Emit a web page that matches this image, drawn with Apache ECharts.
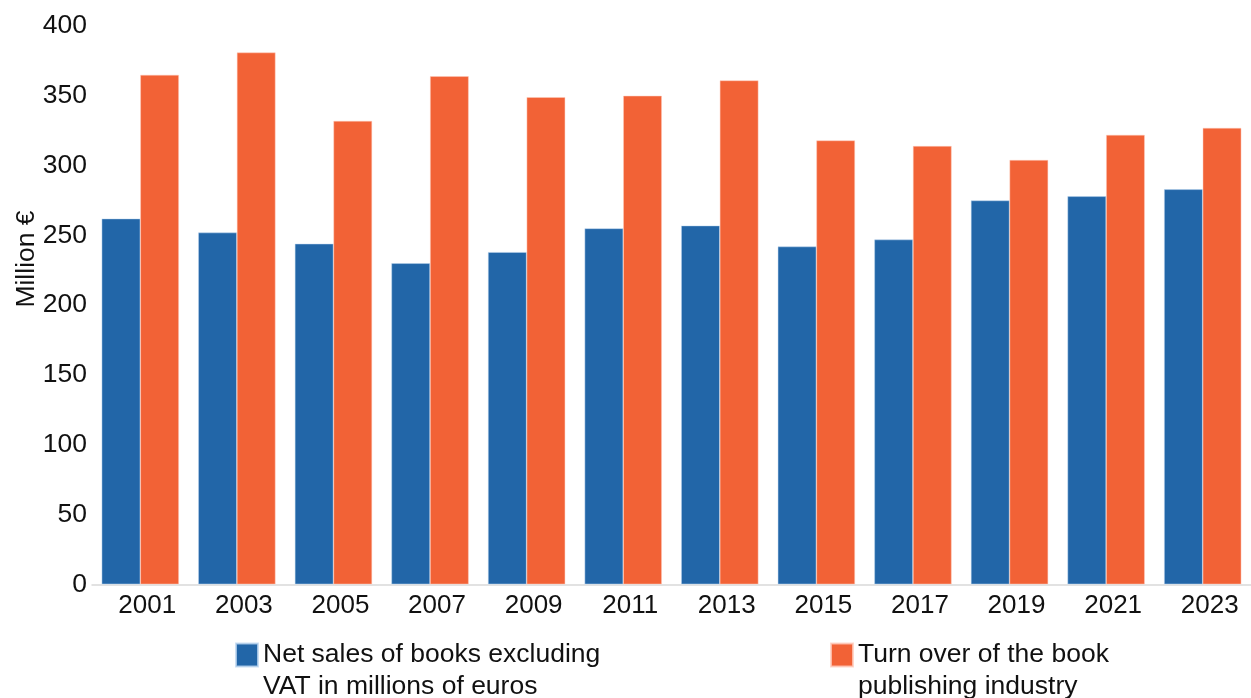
<!DOCTYPE html>
<html>
<head>
<meta charset="utf-8">
<script src="https://cdn.jsdelivr.net/npm/echarts@6/dist/echarts.min.js"></script>
<style>
  html, body { margin: 0; padding: 0; background: #ffffff; }
  #chart { width: 1251px; height: 698px; }
</style>
</head>
<body>
<div id="chart"></div>
<script>
// Years shown on the category axis
const years = ['2001', '2003', '2005', '2007', '2009', '2011', '2013', '2015', '2017', '2019', '2021', '2023'];

// Net sales of books excluding VAT (million €)
const netSales = [262, 252, 244, 230, 238, 255, 257, 242, 247, 275, 278, 283];

// Turnover of the book publishing industry (million €)
const turnover = [365, 381, 332, 364, 349, 350, 361, 318, 314, 304, 322, 327];

// Series names and their two-line legend captions
const seriesNames = ['Net sales of books excluding VAT in millions of euros', 'Turn over of the book publishing industry'];
const legendCaptions = {};
// leading break keeps the first caption line level with the swatch
legendCaptions[seriesNames[0]] = '\nNet sales of books excluding\nVAT in millions of euros';
legendCaptions[seriesNames[1]] = '\nTurn over of the book\npublishing industry';

const FONT = '"Liberation Sans", Arial, sans-serif';
const FS = 26;
const BLUE = '#2266a8';
const ORANGE = '#f26236';

const chart = echarts.init(document.getElementById('chart'), null, { renderer: 'canvas' });

const legendText = {
  fontFamily: FONT,
  fontSize: 26.5,
  color: '#111111',
  lineHeight: 32
};

function makeLegend(name, left) {
  return {
    data: [name],
    left: left,
    top: 607,
    padding: 0,
    icon: 'rect',
    itemWidth: 22,
    itemHeight: 23,
    formatter: n => legendCaptions[n],
    textStyle: legendText,
    selectedMode: false
  };
}

chart.setOption({
  animation: false,
  backgroundColor: '#ffffff',
  grid: { left: 92, top: 26, width: 1166, height: 558.3 },
  xAxis: {
    type: 'category',
    data: years,
    axisLine: { show: true, lineStyle: { color: '#d9d9d9', width: 1.5 } },
    axisTick: { show: false },
    axisLabel: { fontFamily: FONT, fontSize: FS, color: '#111111', margin: 9, padding: [0, 0, 0, 14] }
  },
  yAxis: {
    type: 'value',
    min: 0,
    max: 400,
    interval: 50,
    axisLine: { show: false },
    axisTick: { show: false },
    splitLine: { show: false },
    axisLabel: { fontFamily: FONT, fontSize: 26.5, color: '#111111', margin: 5 }
  },
  legend: [makeLegend(seriesNames[0], 235), makeLegend(seriesNames[1], 830)],
  graphic: [
    {
      type: 'text',
      x: 27,
      y: 259,
      rotation: Math.PI / 2,
      style: {
        text: 'Million €',
        fontFamily: FONT,
        fontSize: 26.5,
        fill: '#111111',
        align: 'center',
        verticalAlign: 'middle'
      }
    }
  ],
  series: [
    {
      name: seriesNames[0],
      type: 'bar',
      data: netSales,
      barGap: '0%',
      barCategoryGap: '20%',
      itemStyle: { color: BLUE, borderColor: 'rgba(190,215,240,0.8)', borderWidth: 0.6 }
    },
    {
      name: seriesNames[1],
      type: 'bar',
      data: turnover,
      barGap: '0%',
      barCategoryGap: '20%',
      itemStyle: { color: ORANGE, borderColor: 'rgba(255,205,190,0.8)', borderWidth: 0.6 }
    }
  ]
});
</script>
</body>
</html>
